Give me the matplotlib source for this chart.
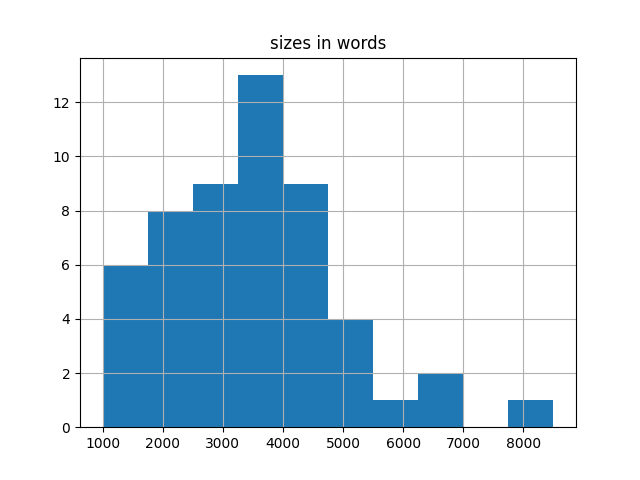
import numpy as np
import matplotlib
matplotlib.use("Agg")
import matplotlib.pyplot as plt

# histogram of document sizes, 10 bins
bin_lo = 1000
bin_hi = 8500
counts = [6, 8, 9, 13, 9, 4, 1, 2, 0, 1]

edges = np.linspace(bin_lo, bin_hi, len(counts) + 1)
centers = (edges[:-1] + edges[1:]) / 2

fig, ax = plt.subplots(figsize=(6.4, 4.8), dpi=100)
ax.hist(centers, bins=edges, weights=counts, color='#1f77b4')
ax.grid(True)
ax.set_title('sizes in words')
fig.savefig('out.png')
